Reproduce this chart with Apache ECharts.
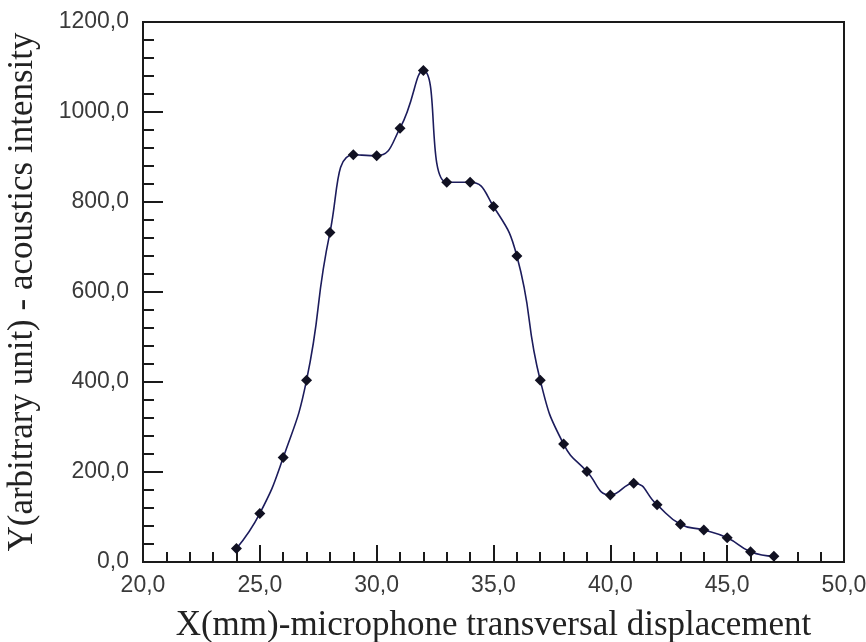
<!DOCTYPE html>
<html>
<head>
<meta charset="utf-8">
<script src="https://cdn.jsdelivr.net/npm/echarts@6/dist/echarts.min.js"></script>
<style>
  html, body { margin: 0; padding: 0; background: #ffffff; }
  #chart { width: 866px; height: 642px; }
</style>
</head>
<body>
<div id="chart"></div>
<script>
// Data
var xPositions = [24, 25, 26, 27, 28, 29, 30, 31, 32, 33, 34, 35, 36, 37, 38, 39, 40, 41, 42, 43, 44, 45, 46, 47];
var intensity = [30, 108, 232, 404, 732, 905, 903, 964, 1092, 844, 844, 790, 680, 404, 262, 201, 149, 175, 127, 84, 71, 54, 23, 13];

var points = xPositions.map(function (x, i) {
  return [x, intensity[i]];
});

// comma decimal labels, e.g. 1200,0
function commaLabel(v) {
  return v.toFixed(1).replace(".", ",");
}

var chart = echarts.init(document.getElementById("chart"));

var option = {
  backgroundColor: "#ffffff",
  animation: false,
  grid: {
    left: 143,
    right: 22,
    top: 22,
    bottom: 80,
    outerBoundsMode: "none",
    show: true,
    borderColor: "#1a1a1a",
    borderWidth: 2,
  },
  xAxis: {
    type: "value",
    min: 20,
    max: 50,
    interval: 5,
    name: "X(mm)-microphone transversal displacement",
    nameLocation: "middle",
    nameGap: 46,
    nameTextStyle: {
      fontFamily: "Liberation Serif",
      fontSize: 35,
      color: "#222",
    },
    axisLine: { lineStyle: { color: "#1a1a1a", width: 2 } },
    axisTick: { inside: true, length: 17, lineStyle: { color: "#1a1a1a", width: 2 } },
    minorTick: { show: true, splitNumber: 5, length: 10, lineStyle: { color: "#1a1a1a", width: 2 } },
    splitLine: { show: false },
    axisLabel: {
      formatter: commaLabel,
      fontFamily: "Liberation Sans",
      fontSize: 23,
      color: "#3a3a3a",
      margin: 12,
    },
  },
  yAxis: {
    type: "value",
    min: 0,
    max: 1200,
    interval: 200,
    name: "Y(arbitrary unit) - acoustics intensity",
    nameLocation: "middle",
    nameGap: 103,
    nameTextStyle: {
      fontFamily: "Liberation Serif",
      fontSize: 35,
      color: "#222",
    },
    axisLine: { lineStyle: { color: "#1a1a1a", width: 2 } },
    axisTick: { inside: true, length: 20, lineStyle: { color: "#1a1a1a", width: 2 } },
    minorTick: { show: true, splitNumber: 5, length: 11, lineStyle: { color: "#1a1a1a", width: 2 } },
    splitLine: { show: false },
    axisLabel: {
      formatter: commaLabel,
      fontFamily: "Liberation Sans",
      fontSize: 23,
      color: "#3a3a3a",
      margin: 14,
    },
  },
  series: [
    {
      name: "Intensity",
      type: "line",
      data: points,
      smooth: 0.5,
      symbol: "diamond",
      symbolSize: 11,
      itemStyle: { color: "#111122" },
      lineStyle: { color: "#1c1c5c", width: 1.6 },
    },
  ],
};
chart.setOption(option);
</script>
</body>
</html>
